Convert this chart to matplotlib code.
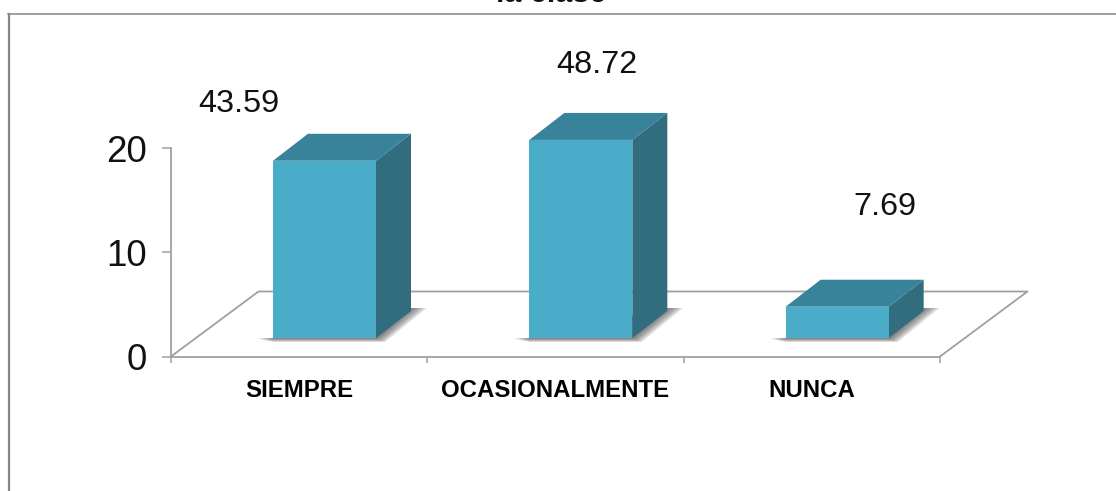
import matplotlib

matplotlib.use('Agg')
import matplotlib.pyplot as plt
from matplotlib.patches import Polygon

categorias = ['SIEMPRE', 'OCASIONALMENTE', 'NUNCA']
valores = [17, 19, 3]
porcentajes = ['43.59', '48.72', '7.69']
ticks_y = [0, 10, 20]
titulo = 'la clase'

W, H = 1116, 491
plt.rcParams['font.family'] = ['Liberation Sans', 'DejaVu Sans']

fig = plt.figure(figsize=(W / 100, H / 100), dpi=100)
# ejes: x 171..940 px, y 356.5..148 px
ax = fig.add_axes([171 / W, 1 - 356.5 / H, 769 / W, 208.5 / H])
ax.set_xlim(0, 3)
ax.set_ylim(0, 20)
ax.patch.set_visible(False)

gris = '#a0a0a0'
for lado in ['top', 'right']:
    ax.spines[lado].set_visible(False)
for lado in ['left', 'bottom']:
    ax.spines[lado].set_color(gris)
    ax.spines[lado].set_linewidth(1.3)

ax.set_yticks(ticks_y)
ax.tick_params(axis='y', length=6.5, width=1.1, color=gris, labelsize=26.5, pad=11, labelcolor='#111111')
ax.set_xticks([0, 1, 2, 3])
ax.set_xticklabels([])
ax.tick_params(axis='x', which='major', length=4.5, width=1.1, color=gris)
ax.set_xticks([i + 0.5 for i in range(3)], minor=True)
ax.set_xticklabels(categorias, minor=True, fontsize=17.3, fontweight='bold')
ax.tick_params(axis='x', which='minor', length=0, pad=16)

# pasos de profundidad en unidades de datos
px_x = 3 / 769
px_y = 20 / 208.5
fondo_dx, fondo_dy = 87.5 * px_x, 65 * px_y
barra_dx, barra_dy = 35 * px_x, 27 * px_y
ancho = 103 * px_x
offs_x, offs_y = 102 * px_x, 18.5 * px_y

# las etiquetas estan movidas a mano en el original
etiqueta_dx = [-85.5, 16, 47.5]
etiqueta_dy = [57, 75, 100]

# suelo
ax.plot([0, fondo_dx, 3 + fondo_dx, 3], [0, fondo_dy, fondo_dy, 0], color=gris, lw=1.3,
        clip_on=False, zorder=1)

for i, v in enumerate(valores):
    x0 = i + offs_x
    x1 = x0 + ancho
    y0 = offs_y
    y1 = y0 + v
    # sombra
    for k in range(1, 7):
        e = k * 2.2
        sombra = Polygon([(x0 - e * 1.2 * px_x, y0 - 0.5 * px_y),
                          (x0, y0 - e * 0.3 * px_y),
                          (x1 + e * 0.7 * px_x, y0 - e * 0.3 * px_y),
                          (x1 + barra_dx + e * 1.2 * px_x, y0 + barra_dy + 3 * px_y),
                          (x1 + barra_dx, y0 + barra_dy + 3 * px_y),
                          (x0, y0)],
                         facecolor='#444444', edgecolor='none', alpha=0.16, clip_on=False, zorder=2)
        ax.add_patch(sombra)
    lateral = Polygon([(x1, y0), (x1 + barra_dx, y0 + barra_dy), (x1 + barra_dx, y1 + barra_dy), (x1, y1)],
                      facecolor='#316d7f', edgecolor='none', clip_on=False, zorder=3)
    techo = Polygon([(x0, y1), (x1, y1), (x1 + barra_dx, y1 + barra_dy), (x0 + barra_dx, y1 + barra_dy)],
                    facecolor='#38829a', edgecolor='none', clip_on=False, zorder=3)
    frente = Polygon([(x0, y0), (x1, y0), (x1, y1), (x0, y1)],
                     facecolor='#4aacc8', edgecolor='none', clip_on=False, zorder=4)
    ax.add_patch(lateral)
    ax.add_patch(techo)
    ax.add_patch(frente)
    ax.text(x0 + ancho / 2 + etiqueta_dx[i] * px_x, y1 + etiqueta_dy[i] * px_y, porcentajes[i], fontsize=23.3,
            ha='center', va='center', color='#111111', clip_on=False, zorder=5)

# marco exterior del grafico, cortado por la imagen
fig.add_artist(plt.Line2D([8.5 / W, 8.5 / W], [0, 1 - 13.5 / H], color='#868686', lw=1.6))
fig.add_artist(plt.Line2D([8 / W, 1], [1 - 13.5 / H, 1 - 13.5 / H], color='#868686', lw=1.1))
fig.text(551 / W, 1 - 2.5 / H, titulo, fontsize=22, fontweight='bold', ha='center', va='baseline', color='#111111')

fig.savefig('out.png', dpi=100)
